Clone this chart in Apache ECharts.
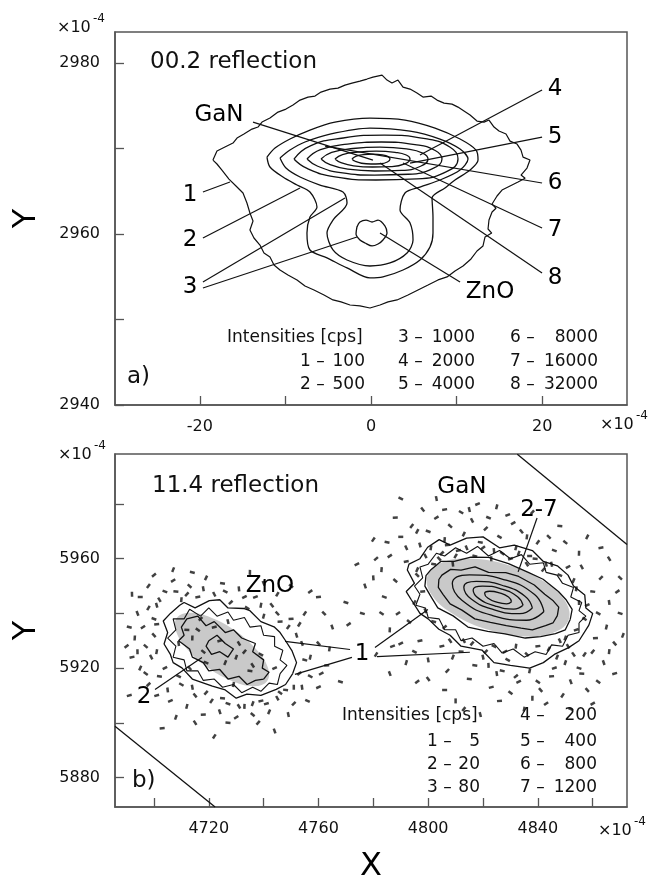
<!DOCTYPE html>
<html>
<head>
<meta charset="utf-8">
<script src="https://cdn.jsdelivr.net/npm/echarts@6/dist/echarts.min.js"></script>
<style>
  html, body { margin: 0; padding: 0; background: #fff; }
  #chart { width: 654px; height: 884px; }
</style>
</head>
<body>
<div id="chart"></div>
<script>
// ---- axes (x10^-4 units) ----
const topXTicks = [-20, -10, 0, 10, 20];
const topXLabels = [-20, 0, 20];
const topYTicks = [2940, 2950, 2960, 2970, 2980];
const topYLabels = [2940, 2960, 2980];
const botXTicks = [4700, 4720, 4740, 4760, 4780, 4800, 4820, 4840, 4860];
const botXLabels = [4720, 4760, 4800, 4840];
const botYTicks = [5880, 5900, 5920, 5940, 5960, 5980];
const botYLabels = [5880, 5920, 5960];

// ---- a) 00.2 reflection contours ----
const topC1 = [[-18.46,2968.63],[-17.99,2969.68],[-17.06,2970.15],[-16.12,2970.62],[-15.65,2971.20],[-14.84,2971.67],[-13.90,2972.25],[-13.20,2972.49],[-12.73,2973.07],[-11.80,2973.54],[-10.86,2974.24],[-9.93,2974.59],[-9.11,2975.06],[-8.29,2975.64],[-7.36,2975.99],[-6.54,2976.11],[-5.84,2976.58],[-4.79,2976.93],[-3.86,2977.04],[-3.04,2977.39],[-2.22,2977.63],[-1.29,2977.86],[-0.47,2978.10],[0.23,2978.33],[1.29,2978.56],[1.87,2977.98],[2.45,2977.63],[3.15,2977.98],[3.74,2977.16],[4.56,2976.93],[5.37,2976.46],[6.07,2975.99],[7.01,2976.11],[7.71,2975.64],[8.53,2975.29],[9.46,2975.17],[10.16,2974.82],[10.86,2974.36],[11.57,2973.89],[12.38,2973.19],[13.20,2973.07],[13.78,2973.31],[14.37,2972.49],[14.95,2972.02],[15.77,2971.67],[16.24,2970.85],[17.06,2970.50],[17.52,2969.80],[17.76,2968.98],[18.57,2968.63],[18.22,2967.70],[17.52,2966.88],[18.0,2966.5],[17.17,2966.06],[16.24,2965.60],[15.30,2965.13],[14.72,2964.43],[14.14,2963.49],[14.6,2963.0],[14.14,2962.56],[13.78,2961.62],[13.67,2960.57],[14.1,2960.1],[13.32,2959.64],[13.08,2958.59],[12.38,2958.00],[11.68,2957.07],[10.75,2956.25],[9.81,2955.67],[8.88,2954.97],[7.83,2954.62],[6.66,2954.03],[5.49,2953.45],[4.32,2952.86],[3.04,2952.28],[1.99,2952.05],[1.05,2951.69],[-0.12,2951.34],[-1.29,2951.58],[-2.45,2951.69],[-3.50,2952.05],[-4.44,2952.28],[-5.49,2952.86],[-6.66,2953.45],[-7.71,2953.91],[-8.64,2954.62],[-9.70,2955.20],[-10.63,2955.78],[-11.33,2956.37],[-11.80,2957.30],[-12.50,2957.77],[-12.97,2958.70],[-13.67,2959.52],[-14.14,2960.46],[-13.78,2961.51],[-14.14,2962.44],[-14.49,2963.61],[-14.95,2964.78],[-15.77,2965.60],[-16.59,2966.41],[-17.41,2967.46],[-17.99,2968.17],[-18.46,2968.63]];
const topC2 = [[-12.15,2968.98],[-11.21,2970.03],[-9.46,2971.09],[-7.13,2972.14],[-4.21,2973.07],[-0.12,2973.54],[3.97,2973.31],[7.48,2972.37],[10.40,2971.09],[12.27,2969.80],[12.50,2968.63],[11.57,2967.47],[9.81,2966.30],[8.64,2965.37],[7.13,2964.19],[7.24,2961.97],[7.24,2960.11],[6.89,2958.47],[5.72,2956.95],[3.74,2955.78],[1.40,2954.97],[-0.12,2954.85],[-2.80,2956.02],[-5.14,2957.19],[-7.13,2958.12],[-7.48,2960.11],[-7.13,2961.97],[-6.31,2963.14],[-7.13,2964.90],[-8.64,2965.71],[-10.28,2966.65],[-11.80,2967.82],[-12.15,2968.98]];
const topC3 = [[-10.63,2968.87],[-9.46,2969.80],[-7.71,2970.74],[-4.79,2971.67],[-0.12,2972.37],[4.56,2972.02],[8.06,2971.09],[10.40,2969.92],[11.33,2968.75],[10.40,2967.47],[8.06,2966.30],[5.72,2965.48],[3.97,2964.78],[3.39,2962.79],[4.56,2961.27],[4.91,2959.29],[4.21,2957.77],[2.22,2956.60],[-0.12,2956.25],[-2.80,2956.95],[-4.44,2958.12],[-5.14,2960.11],[-4.44,2961.62],[-2.80,2963.61],[-3.27,2964.90],[-5.96,2965.71],[-8.29,2966.65],[-9.93,2967.70],[-10.63,2968.87]];
const topC4 = [[-9.0,2968.75],[-7.08,2970.29],[-3.25,2971.21],[1.54,2971.55],[6.33,2971.13],[9.2,2970.15],[10.16,2968.75],[8.82,2967.28],[5.37,2966.42],[0.58,2966.30],[-4.21,2966.67],[-7.47,2967.65],[-9.0,2968.75]];
const topC5 = [[-7.48,2968.75],[-5.90,2969.84],[-2.75,2970.50],[1.19,2970.74],[5.14,2970.44],[7.50,2969.75],[8.29,2968.75],[7.19,2967.63],[4.35,2966.97],[0.41,2966.88],[-3.54,2967.16],[-6.22,2967.91],[-7.48,2968.75]];
const topC6 = [[-5.84,2968.75],[-4.59,2969.52],[-2.09,2969.98],[1.04,2970.15],[4.16,2969.94],[6.04,2969.45],[6.66,2968.75],[5.79,2967.91],[3.54,2967.42],[0.41,2967.35],[-2.71,2967.56],[-4.84,2968.12],[-5.84,2968.75]];
const topC7 = [[-4.21,2968.75],[-3.33,2969.26],[-1.58,2969.57],[0.61,2969.68],[2.81,2969.54],[4.12,2969.22],[4.56,2968.75],[3.95,2968.19],[2.37,2967.87],[0.18,2967.82],[-2.02,2967.96],[-3.51,2968.33],[-4.21,2968.75]];
const topC8 = [[-2.22,2968.75],[-1.78,2969.07],[-0.89,2969.26],[0.22,2969.33],[1.33,2969.24],[2.0,2969.04],[2.22,2968.75],[1.91,2968.40],[1.11,2968.20],[0.0,2968.17],[-1.11,2968.26],[-1.86,2968.49],[-2.22,2968.75]];
const topZnO = [[-1.64,2960.81],[-1.29,2961.39],[-0.58,2961.62],[0.12,2961.39],[0.82,2961.62],[1.64,2960.92],[1.87,2960.11],[1.40,2959.29],[0.82,2958.82],[0.12,2958.59],[-0.70,2958.94],[-1.29,2959.29],[-1.75,2959.99],[-1.64,2960.81]];
const topLeaders = [
  [[-13.78,2973.07],[0.23,2968.63]],
  [[-19.63,2964.90],[-16.47,2966.06]],
  [[-19.63,2959.52],[-8.29,2965.36]],
  [[-19.63,2954.38],[-3.04,2964.19]],
  [[-19.63,2953.68],[-1.64,2959.64]],
  [[19.98,2976.81],[5.72,2969.22]],
  [[19.98,2971.32],[4.56,2968.28]],
  [[19.98,2965.95],[-5.37,2970.27]],
  [[19.98,2960.69],[3.74,2968.28]],
  [[19.98,2955.43],[1.05,2968.28]],
  [[1.05,2960.11],[10.40,2954.38]]
];
const topNotes = [[-17.76,2973.89,'GaN'],[-21.14,2964.54,'1'],[-21.14,2959.29,'2'],[-21.14,2953.80,'3'],[21.49,2976.93,'4'],[21.49,2971.32,'5'],[21.49,2965.95,'6'],[21.49,2960.46,'7'],[21.49,2954.85,'8'],[13.90,2953.21,'ZnO']];
const topLevels = ['1','2','3','4','5','6','7','8'];
const topCps = ['100','500','1000','2000','4000','8000','16000','32000'];

// ---- b) 11.4 reflection contours ----
const ganGray = [[4851.3,5937.9],[4849.7,5944.9],[4841.5,5952.1],[4829.1,5957.7],[4815.7,5960.0],[4805.0,5958.6],[4799.7,5953.7],[4801.3,5946.7],[4809.5,5939.5],[4821.9,5934.0],[4835.3,5931.6],[4846.0,5933.1]];
const znoGray = [[4741.3,5915.3],[4741.5,5920.3],[4737.2,5927.0],[4729.6,5933.7],[4720.7,5938.5],[4713.0,5940.2],[4708.3,5938.3],[4708.1,5933.4],[4712.4,5926.6],[4720.0,5919.9],[4728.9,5915.1],[4736.6,5913.4]];
const ganC1 = [[4858.6,5935.7],[4860,5940],[4857.5,5942],[4857.1,5946.7],[4853,5950],[4851,5954],[4847.1,5957.4],[4842,5959],[4838,5963],[4831.4,5965.0],[4826,5964],[4820,5968],[4814.0,5967.5],[4808,5965],[4804,5967],[4799.8,5964.2],[4797,5960],[4793,5958],[4792.4,5955.9],[4795,5951],[4792,5948],[4793.9,5944.9],[4797,5940],[4800,5938],[4803.9,5934.2],[4808,5932],[4812,5928],[4819.6,5926.6],[4824,5922],[4830,5921],[4837,5920],[4842,5922],[4846,5925],[4851.2,5927.5],[4855,5930],[4858.6,5935.7]];
const ganC1b = [[4855,5936.5],[4857.5,5939],[4855,5941],[4856,5944],[4852,5946],[4853,5949.5],[4849,5951],[4847,5954],[4843,5955],[4842,5958.5],[4837,5958],[4834,5961.5],[4830,5960],[4826,5963],[4822,5961],[4818,5964.5],[4814,5962],[4810,5964],[4806,5961],[4803,5962],[4800,5958],[4797,5957],[4798,5953],[4795,5950],[4797,5947],[4795.5,5943],[4799,5942],[4800,5938.5],[4804,5938],[4806,5934],[4810,5934],[4812,5930],[4816,5931],[4820,5928],[4824,5929],[4827,5925.5],[4831,5927],[4835,5924],[4839,5926],[4843,5925],[4845,5928.5],[4849,5928],[4851,5932],[4855,5933],[4855,5936.5]];
const ganC2 = [[4851.8,5937.8],[4852.5,5941.5],[4850.2,5945.1],[4847.5,5948.0],[4841.9,5952.5],[4836.5,5955.0],[4829.3,5958.2],[4822.0,5960.5],[4815.6,5960.6],[4809.5,5959.0],[4804.6,5959.0],[4801.0,5956.0],[4799.2,5953.8],[4798.8,5950.0],[4800.8,5946.5],[4803.5,5942.0],[4809.1,5939.1],[4814.5,5935.0],[4821.7,5933.4],[4828.0,5932.5],[4835.4,5931.0],[4841.0,5931.5],[4846.4,5932.6],[4850.0,5934.0],[4851.8,5937.8]];
const ganC3 = [[4847.1,5939.2],[4847.6,5942.3],[4845.6,5944.6],[4842.5,5947.0],[4838.7,5950.4],[4833.0,5953.5],[4828.3,5954.9],[4822.0,5955.0],[4817.1,5957.0],[4812.0,5955.8],[4808.2,5956.1],[4805.0,5954.0],[4803.9,5952.4],[4803.7,5949.5],[4805.4,5947.0],[4808.0,5943.5],[4812.3,5941.2],[4817.0,5938.0],[4822.7,5936.7],[4828.5,5935.5],[4833.9,5934.6],[4838.0,5934.0],[4842.8,5935.5],[4845.5,5936.5],[4847.1,5939.2]];
const ganC4 = [[4842.2,5940.7],[4838.8,5946.9],[4827.5,5952.4],[4815.1,5954.1],[4808.8,5950.9],[4812.3,5944.8],[4823.5,5939.2],[4835.9,5937.5],[4842.2,5940.7]];
const ganC5 = [[4838.0,5942.0],[4835.3,5946.3],[4826.9,5950.3],[4817.6,5951.7],[4813.0,5949.6],[4815.7,5945.3],[4824.1,5941.3],[4833.4,5939.9],[4838.0,5942.0]];
const ganC6 = [[4834.6,5943.0],[4832.6,5946.1],[4826.5,5949.0],[4819.8,5950.0],[4816.4,5948.6],[4818.4,5945.5],[4824.5,5942.7],[4831.2,5941.6],[4834.6,5943.0]];
const ganC7 = [[4830.4,5944.3],[4829.3,5946.0],[4826.0,5947.5],[4822.4,5948.1],[4820.6,5947.3],[4821.7,5945.6],[4825.0,5944.1],[4828.6,5943.5],[4830.4,5944.3]];
const znoC1 = [[4750.6,5918.0],[4752,5922],[4750.3,5926.4],[4748,5930],[4746,5933],[4743.8,5935.1],[4739,5937],[4735,5941],[4732.7,5941.8],[4727,5942],[4724,5945],[4720.2,5944.7],[4715,5942],[4711,5944],[4709.4,5943.0],[4706,5940],[4703.4,5937.2],[4705,5933],[4703.7,5928.8],[4706,5925],[4707,5922],[4710.2,5920.1],[4714,5916],[4721.3,5913.4],[4726,5912],[4730,5909],[4733.9,5910.5],[4739,5910],[4744.6,5912.2],[4748,5914],[4750.6,5918.0]];
const znoC1b = [[4746,5918],[4748.5,5921],[4746,5923],[4747,5926.5],[4744,5928],[4744,5931.5],[4740,5932],[4739,5935.5],[4735,5935],[4733,5938.5],[4729,5937.5],[4727,5940.5],[4723,5939],[4720,5942],[4717,5939],[4713,5941.5],[4711,5938],[4707,5938],[4708,5934],[4705,5931],[4708,5928],[4707,5924],[4711,5923],[4712,5919],[4716,5919],[4718,5915.5],[4722,5916],[4725,5913],[4729,5914],[4732,5911],[4736,5913],[4739,5911.5],[4742,5914.5],[4745,5914],[4746,5918]];
const znoC2 = [[4740,5916],[4742,5918.5],[4739.5,5920],[4740,5923],[4736,5926],[4737,5929],[4732,5931],[4729,5934],[4726,5933],[4722,5937],[4719,5935.5],[4716,5939],[4712,5938],[4710,5935],[4711,5932],[4709,5930],[4713,5927],[4714,5924],[4718,5922],[4720,5919],[4724,5919.5],[4727,5916],[4731,5917],[4734,5914],[4737,5915.5],[4740,5916]];
const znoC2b = [[4720,5930],[4723,5932],[4726,5929],[4729,5927],[4727,5924],[4724,5926],[4721,5925],[4719,5928],[4720,5930]];
const ganDots = [[4790,5968],[4794,5972],[4797,5965],[4800,5970],[4803,5975],[4806,5967],[4808,5972],[4811,5963],[4813,5969],[4816,5974],[4819,5966],[4821,5971],[4824,5963],[4826,5968],[4829,5976],[4832,5964],[4834,5970],[4837,5961],[4840,5966],[4843,5958],[4846,5963],[4786,5961],[4783,5956],[4788,5952],[4792,5959],[4796,5956],[4799,5961],[4802,5958],[4805,5962],[4809,5958],[4812,5977],[4818,5980],[4825,5979],[4798,5978],[4788,5975],[4780,5967],[4777,5950],[4784,5946],[4789,5940],[4786,5934],[4793,5937],[4797,5930],
  [4853,5952],[4856,5957],[4860,5948],[4863,5953],[4866,5944],[4862,5940],[4858,5943],[4865,5935],[4868,5929],[4861,5931],[4857,5925],[4864,5922],[4870,5940],[4869,5948],[4855,5962],[4850,5966],
  [4805,5928],[4809,5924],[4813,5930],[4817,5921],[4821,5926],[4825,5918],[4829,5923],[4833,5915],[4837,5919],[4841,5912],[4845,5917],[4849,5910],[4852,5915],[4855,5920],[4843,5907],[4838,5909],[4830,5911],[4823,5913],[4847,5924],[4851,5928],[4815,5916],[4807,5919],[4800,5923],[4795,5926],[4790,5929],[4835,5905],[4858,5912],[4826,5908],
  [4781,5925],[4786,5918],[4776,5940],[4796,5915],[4810,5908],[4862,5915],[4868,5918],[4871,5932],[4866,5960],[4848,5972],[4838,5977],[4803,5982],[4790,5982],[4774,5958],
  [4801,5964],[4804,5960],[4807,5965],[4810,5961],[4814,5964],[4817,5961],[4820,5964],[4823,5960],[4827,5962],[4830,5960],[4833,5962],[4836,5958],[4839,5960],[4842,5956],[4845,5958],[4848,5954],[4851,5957],[4854,5949],
  [4796,5954],[4798,5948],[4795,5944],[4799,5941],[4802,5937],[4806,5935],[4855,5944],[4857,5938],[4854,5934],[4850,5931],
  [4808,5930],[4812,5926],[4816,5929],[4820,5924],[4824,5928],[4828,5926],[4832,5928],[4836,5925],[4840,5928],[4844,5927],[4848,5930],[4827,5919],[4832,5917],[4822,5921],[4840,5915],[4846,5920],[4850,5922],[4853,5925],[4856,5918],[4860,5926],
  [4815,5978],[4822,5975],[4831,5973],[4836,5968],[4844,5968],[4806,5978],[4796,5970],[4792,5964],[4785,5966],[4781,5960],[4780,5953],[4783,5940],[4787,5928],[4792,5922],[4800,5916],[4806,5912],[4813,5905],[4819,5903],[4852,5905],[4860,5907],[4866,5926],[4870,5953],[4863,5964],[4858,5968]];
const znoDots = [[4695,5946],[4698,5950],[4701,5943],[4704,5948],[4707,5952],[4710,5945],[4713,5950],[4716,5946],[4719,5953],[4722,5947],[4725,5951],[4728,5944],[4731,5949],[4734,5942],[4737,5946],[4740,5939],[4743,5943],[4746,5937],[4749,5935],[4752,5932],[4700,5938],[4696,5935],[4693,5931],[4697,5928],[4692,5924],[4695,5920],[4699,5924],[4702,5917],[4698,5914],[4705,5912],[4710,5914],[4706,5908],[4712,5906],[4715,5910],[4718,5903],[4721,5908],[4724,5904],[4727,5907],[4730,5902],[4733,5906],[4736,5903],[4739,5908],[4742,5904],[4745,5909],[4748,5912],[4751,5907],[4754,5913],[4757,5917],[4760,5913],[4757,5924],[4760,5929],[4763,5921],[4755,5940],[4765,5935],[4770,5944],[4757,5948],
  [4714,5931],[4718,5926],[4722,5935],[4726,5922],[4731,5929],[4735,5919],[4717,5938],[4709,5929],[4739,5925],[4744,5920],[4729,5914],[4713,5920],
  [4703,5898],[4722,5895],[4744,5897],[4768,5915],[4771,5936],[4735,5955],[4750,5950],[4691,5910],[4707,5956],
  [4702,5945],[4708,5948],[4712,5947],[4718,5949],[4726,5948],[4733,5946],[4739,5943],[4745,5940],[4750,5938],[4753,5936],[4754,5929],[4755,5923],[4753,5918],[4751,5913],[4746,5911],[4741,5907],[4736,5907],[4731,5906],[4725,5909],[4719,5911],[4714,5913],[4709,5917],[4704,5920],[4701,5926],[4700,5932],[4701,5936],[4698,5942],[4694,5940],[4691,5935],[4690,5928],[4694,5926],[4697,5918],[4701,5910],[4708,5902],[4715,5900],[4727,5900],[4738,5900],[4749,5903],[4756,5908],[4761,5918],[4764,5927],[4762,5940],[4760,5946],[4745,5947],[4740,5951],[4714,5955],[4700,5954],[4692,5947],
  [4716,5934],[4724,5930],[4730,5924],[4736,5921],[4712,5934],[4733,5926],[4727,5937],[4719,5922]];
const botEdges = [
  [[4832.5,5998.2],[4872.5,5965.2]],
  [[4685.8,5898.7],[4722.3,5869.2]]
];
const botLeaders = [
  [[4839.7,5974.9],[4832.8,5955.2]],
  [[4700.4,5912.2],[4717.5,5923.9]],
  [[4771.5,5926.8],[4747.8,5929.8]],
  [[4772.2,5923.9],[4751.4,5917.7]],
  [[4780.6,5927.5],[4799.9,5941.4]],
  [[4781.3,5924.2],[4815.2,5925.8]]
];
const botNotes = [[4812.3,5986.4,'GaN'],[4840.4,5977.9,'2-7'],[4742.3,5949.9,'ZnO'],[4775.9,5925.0,'1'],[4696.4,5909.3,'2']];
const botLevels = ['1','2','3','4','5','6','7'];
const botCps = ['5','20','80','200','400','800','1200'];

// ---- layout ----
const FONT = 'DejaVu Sans';
const INK = '#000';
const AXIS = '#555';
const topSlots = [[300,365,362],[300,365,385],[398,475,338],[398,475,362],[398,475,385],[510,598,338],[510,598,362],[510,598,385]];
const botSlots = [[427,480,742],[427,480,765],[427,480,788],[520,597,716],[520,597,742],[520,597,765],[520,597,788]];

function valueAxis(gi, pos, min, max, ticks, labels, extra) {
  return Object.assign({
    type: 'value', gridIndex: gi, position: pos, min: min, max: max,
    axisLine: { show: true, onZero: false, lineStyle: { color: AXIS, width: 1.5 } },
    axisTick: { show: true, inside: true, length: 9, customValues: ticks, lineStyle: { color: AXIS, width: 1.3 } },
    axisLabel: {
      customValues: labels, color: '#111', fontSize: 16, fontFamily: FONT,
      margin: pos === 'left' ? 15 : 14,
      formatter: function (v) { return String(v); }
    },
    splitLine: { show: false }
  }, extra || {});
}

function lineSeries(points, gi, smooth, width) {
  return {
    type: 'line', xAxisIndex: gi, yAxisIndex: gi, data: points,
    showSymbol: false, symbol: 'none', smooth: smooth, silent: true, z: 3,
    lineStyle: { color: '#111', width: width }
  };
}

function graySeries(points, gi) {
  return {
    type: 'custom', xAxisIndex: gi, yAxisIndex: gi, data: points, silent: true, z: 1, clip: true,
    renderItem: function (params, api) {
      if (params.dataIndex !== 0) return null;
      return {
        type: 'polygon',
        shape: { points: points.map(function (p) { return api.coord(p); }), smooth: 0.4 },
        style: { fill: '#c9c9c9' }
      };
    }
  };
}

function noteSeries(notes, gi) {
  return {
    type: 'scatter', xAxisIndex: gi, yAxisIndex: gi, symbolSize: 0, silent: true, z: 5,
    data: notes.map(function (n) { return { value: [n[0], n[1]], name: n[2] }; }),
    label: { show: true, position: 'inside', formatter: '{b}', color: INK, fontSize: 23, fontFamily: FONT, textBorderWidth: 0, opacity: 1 }
  };
}

function dotSeries(points, gi) {
  return {
    type: 'scatter', xAxisIndex: gi, yAxisIndex: gi, data: points, silent: true, z: 4,
    symbol: 'rect', symbolSize: [5, 2.5],
    symbolRotate: function (v, p) { return (p.dataIndex * 53) % 180; },
    itemStyle: { color: '#111' }
  };
}

function text(x, y, str, size, align) {
  return { type: 'text', x: x, y: y, z: 10, style: { text: str, fill: '#111', font: size + 'px "' + FONT + '"', align: align || 'left', verticalAlign: 'middle' } };
}

const graphics = [
  text(150, 62, '00.2 reflection', 23),
  text(127, 377, 'a)', 23),
  text(152, 486, '11.4 reflection', 23),
  text(132, 781, 'b)', 23),
  text(227, 338, 'Intensities [cps]', 17),
  text(342, 716, 'Intensities [cps]', 17),
  text(57, 28, '×10', 16), text(93, 19, '-4', 12),
  text(600, 425, '×10', 16), text(636, 416, '-4', 12),
  text(58, 455, '×10', 16), text(94, 446, '-4', 12),
  text(598, 831, '×10', 16), text(634, 822, '-4', 12)
];
topLevels.forEach(function (lv, i) {
  const s = topSlots[i];
  graphics.push(text(s[0], s[2], lv + ' –', 17));
  graphics.push(text(s[1], s[2], topCps[i], 17, 'right'));
});
botLevels.forEach(function (lv, i) {
  const s = botSlots[i];
  graphics.push(text(s[0], s[2], lv + ' –', 17));
  graphics.push(text(s[1], s[2], botCps[i], 17, 'right'));
});

const series = [];
series.push(lineSeries(topC1, 0, false, 1.2));
[topC2, topC3, topZnO].forEach(function (c) { series.push(lineSeries(c, 0, 0.3, 1.3)); });
[topC4, topC5, topC6, topC7, topC8].forEach(function (c) { series.push(lineSeries(c, 0, 0.5, 1.3)); });
topLeaders.forEach(function (l) { series.push(lineSeries(l, 0, false, 1.2)); });
series.push(noteSeries(topNotes, 0));

series.push(graySeries(ganGray, 1));
series.push(graySeries(znoGray, 1));
[ganC1, ganC2, ganC3, znoC1, znoC2, znoC2b].forEach(function (c) { series.push(lineSeries(c, 1, false, 1.3)); });
[ganC1b, znoC1b].forEach(function (c) { series.push(lineSeries(c, 1, false, 1.1)); });
[ganC4, ganC5, ganC6, ganC7].forEach(function (c) { series.push(lineSeries(c, 1, 0.5, 1.3)); });
series.push(dotSeries(ganDots, 1));
series.push(dotSeries(znoDots, 1));
botEdges.forEach(function (l) { series.push(lineSeries(l, 1, false, 1.3)); });
botLeaders.forEach(function (l) { series.push(lineSeries(l, 1, false, 1.2)); });
series.push(noteSeries(botNotes, 1));

const chart = echarts.init(document.getElementById('chart'), null, { renderer: 'canvas' });
chart.setOption({
  animation: false,
  backgroundColor: '#fff',
  textStyle: { fontFamily: FONT },
  grid: [
    { left: 115, top: 32, width: 512, height: 373, show: true, borderColor: AXIS, borderWidth: 1.5 },
    { left: 115, top: 454, width: 512, height: 354, show: true, borderColor: AXIS, borderWidth: 1.5 }
  ],
  xAxis: [
    valueAxis(0, 'bottom', -29.9, 29.9, topXTicks, topXLabels),
    valueAxis(1, 'bottom', 4685.8, 4872.5, botXTicks, botXLabels, {
      name: 'X', nameLocation: 'middle', nameGap: 44,
      nameTextStyle: { fontSize: 32, color: '#000', fontFamily: FONT }
    })
  ],
  yAxis: [
    valueAxis(0, 'left', 2940, 2983.6, topYTicks, topYLabels, {
      name: 'Y', nameLocation: 'middle', nameGap: 72, nameRotate: 90,
      nameTextStyle: { fontSize: 32, color: '#000', fontFamily: FONT }
    }),
    valueAxis(1, 'left', 5869.2, 5998.3, botYTicks, botYLabels, {
      name: 'Y', nameLocation: 'middle', nameGap: 72, nameRotate: 90,
      nameTextStyle: { fontSize: 32, color: '#000', fontFamily: FONT }
    })
  ],
  graphic: graphics,
  series: series
});
</script>
</body>
</html>
